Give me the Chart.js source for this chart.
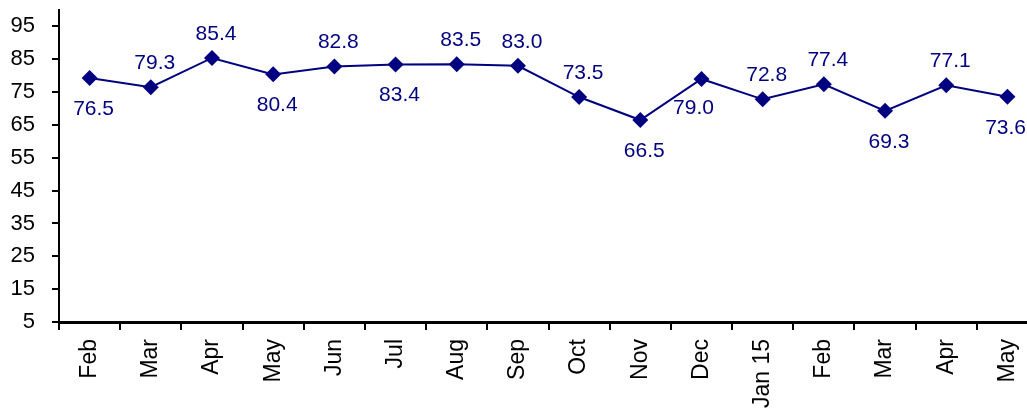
<!DOCTYPE html>
<html>
<head>
<meta charset="utf-8">
<script src="https://cdn.jsdelivr.net/npm/chart.js@4.4.1/dist/chart.umd.min.js"></script>
<style>
  html, body { margin: 0; padding: 0; background: #ffffff; overflow: hidden; }
  #view { width: 1027px; height: 410px; overflow: hidden; position: relative; }
  #wrap { width: 1040px; height: 410px; position: relative; }
</style>
</head>
<body>
<div id="view"><div id="wrap"><canvas id="c"></canvas></div></div>
<script>
// ---- data ----
const categories = ["Feb", "Mar", "Apr", "May", "Jun", "Jul", "Aug", "Sep", "Oct", "Nov", "Dec", "Jan 15", "Feb", "Mar", "Apr", "May"];
const seriesValues = [79.3, 76.5, 85.4, 80.4, 82.8, 83.4, 83.5, 83.0, 73.5, 66.5, 79.0, 72.8, 77.4, 69.3, 77.1, 73.6];
// label texts as printed next to each point in the reference
const pointLabels = ["76.5", "79.3", "85.4", "80.4", "82.8", "83.4", "83.5", "83.0", "73.5", "66.5", "79.0", "72.8", "77.4", "69.3", "77.1", "73.6"];
const yTickValues = [5, 15, 25, 35, 45, 55, 65, 75, 85, 95];

// ---- label placement (style) ----
const labelPlacement = ["below", "above", "above", "below", "above", "below", "above", "above", "above", "below", "belowLeft", "above", "above", "below", "above", "below"];

const NAVY = "#000080";
const VIEW_WIDTH = 1027;

const labelPlugin = {
  id: "pointLabels",
  afterDatasetsDraw(chart) {
    const ctx = chart.ctx;
    const meta = chart.getDatasetMeta(0);
    ctx.save();
    ctx.font = "21px 'Liberation Sans', Arial, sans-serif";
    ctx.fillStyle = NAVY;
    ctx.textAlign = "center";
    ctx.textBaseline = "middle";
    meta.data.forEach((pt, i) => {
      const txt = pointLabels[i];
      const w = ctx.measureText(txt).width;
      const place = labelPlacement[i];
      let x = pt.x + 4;
      let y;
      if (place === "above") y = pt.y - 24;
      else if (place === "belowLeft") { y = pt.y + 29; x = pt.x - 8; }
      else y = pt.y + 31;
      x = Math.min(x, VIEW_WIDTH - w / 2 - 1);
      ctx.fillText(txt, x, y);
    });
    ctx.restore();
  }
};

new Chart(document.getElementById("c"), {
  type: "line",
  data: {
    labels: categories,
    datasets: [{
      data: seriesValues,
      borderColor: NAVY,
      backgroundColor: NAVY,
      borderWidth: 2,
      pointStyle: "rectRot",
      pointRadius: 8,
      pointHoverRadius: 8,
      pointBackgroundColor: NAVY,
      pointBorderColor: NAVY,
      pointBorderWidth: 0,
      tension: 0,
      fill: false,
      clip: false
    }]
  },
  options: {
    responsive: true,
    maintainAspectRatio: false,
    animation: false,
    events: [],
    layout: { autoPadding: false, padding: { top: 10, right: 2, left: 0, bottom: 0 } },
    plugins: {
      legend: { display: false },
      tooltip: { enabled: false },
      title: { display: false }
    },
    scales: {
      x: {
        type: "category",
        offset: true,
        grid: {
          offset: true,
          drawOnChartArea: false,
          drawTicks: true,
          tickLength: 8,
          color: "#000000",
          lineWidth: 2
        },
        border: { display: true, color: "#000000", width: 3 },
        ticks: {
          autoSkip: false,
          minRotation: 90,
          maxRotation: 90,
          padding: 9,
          color: "#000000",
          font: { family: "'Liberation Sans', Arial, sans-serif", size: 23 }
        },
        afterFit(scale) {
          scale.height = 88;
          scale.paddingLeft = 0;
          scale.paddingRight = 0;
          scale.paddingTop = 0;
          scale.paddingBottom = 0;
        }
      },
      y: {
        type: "linear",
        min: 5,
        max: 100,
        grid: {
          drawOnChartArea: false,
          drawTicks: true,
          tickLength: 7,
          color: "#000000",
          lineWidth: 2
        },
        border: { display: true, color: "#000000", width: 2 },
        afterBuildTicks(scale) {
          scale.ticks = yTickValues.map(v => ({ value: v }));
        },
        ticks: {
          padding: 17,
          color: "#000000",
          font: { family: "'Liberation Sans', Arial, sans-serif", size: 22 }
        },
        afterFit(scale) {
          scale.width = 59;
          scale.paddingTop = 0;
          scale.paddingBottom = 0;
          scale.paddingLeft = 0;
          scale.paddingRight = 0;
        }
      }
    }
  },
  plugins: [labelPlugin]
});
</script>
</body>
</html>
